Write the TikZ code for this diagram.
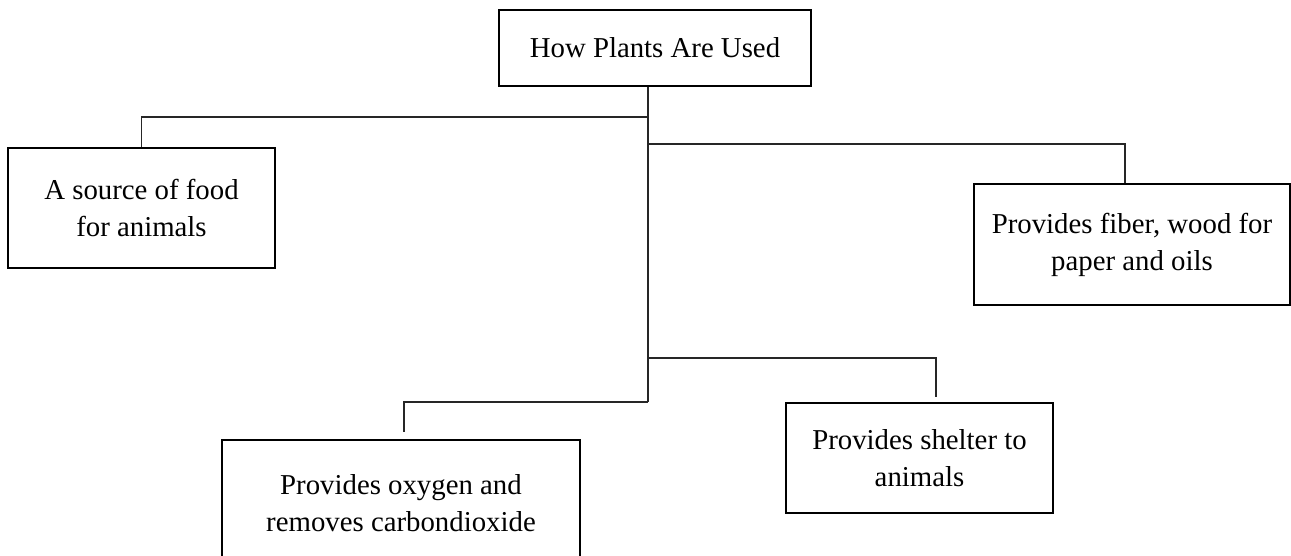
\documentclass[tikz,border=0pt]{standalone}
\usepackage{fontspec}
\setmainfont{Liberation Serif}
\begin{document}
\begin{tikzpicture}[x=1pt,y=-1pt,
  box/.style={draw=black,line width=2.6pt,fill=white,inner sep=0pt,align=center,
    font=\fontsize{28.8}{37}\selectfont},
  conn/.style={draw=black!85,line width=1.3pt}]
\useasboundingbox (0,0) rectangle (1291,556);
\begin{scope}
\clip (0,0) rectangle (1291,556);
\node[box,minimum width=312pt,minimum height=76pt] (top) at (655,48) {How Plants Are Used};
\node[box,minimum width=267pt,minimum height=120pt] (food) at (141.5,208) {A source of food\\for animals};
\node[box,minimum width=316pt,minimum height=121pt] (fiber) at (1132,244.5) {Provides fiber, wood for\\paper and oils};
\node[box,minimum width=358pt,minimum height=126pt] (oxy) at (401,503) {Provides oxygen and\\removes carbondioxide};
\node[box,minimum width=267pt,minimum height=110pt] (shelter) at (919.5,458) {Provides shelter to\\animals};
\coordinate (t0) at ([xshift=-7pt]top.south);
\coordinate (j1) at (648,117);
\coordinate (j2) at (648,144);
\coordinate (j3) at (648,358);
\coordinate (j4) at (648,402);
\coordinate (e3) at (936,397);
\coordinate (e4) at (404,432);
\draw[conn] (t0) -- (j4);
\draw[conn] (j1) -| (food.north);
\draw[conn] (j2) -| ([xshift=-7pt]fiber.north);
\draw[conn] (j3) -| (e3);
\draw[conn] (j4) -| (e4);
\end{scope}
\end{tikzpicture}
\end{document}
